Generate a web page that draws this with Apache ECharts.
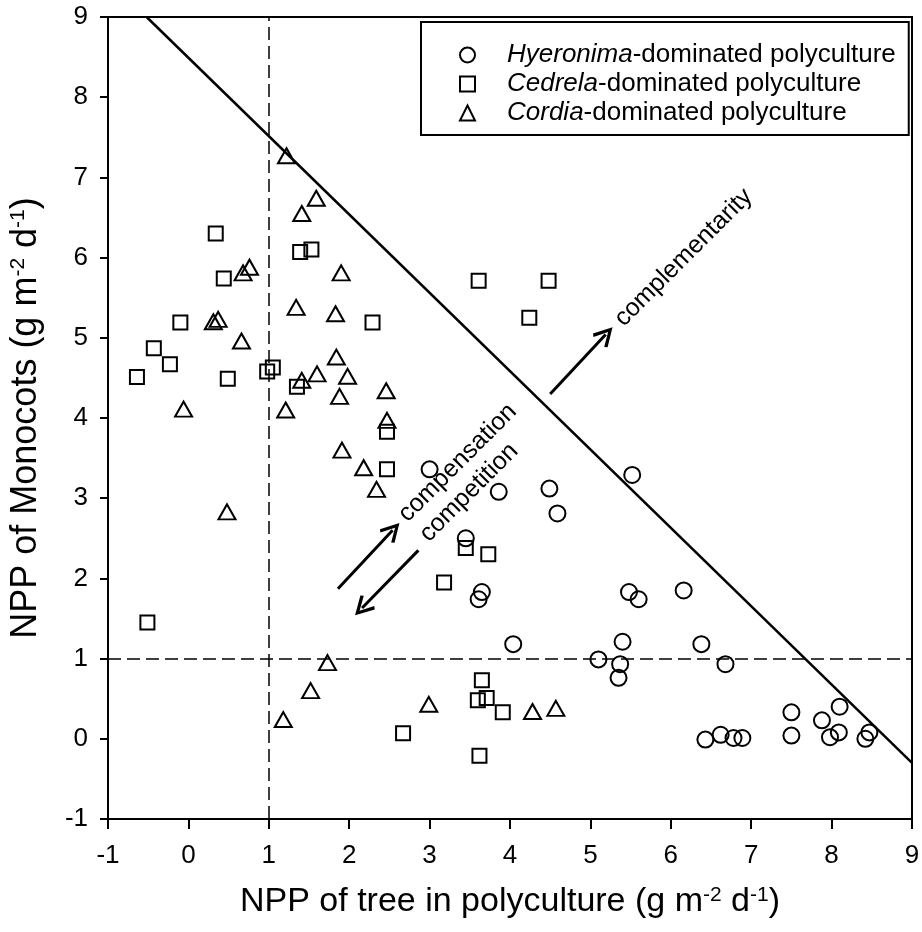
<!DOCTYPE html>
<html>
<head>
<meta charset="utf-8">
<script src="https://cdn.jsdelivr.net/npm/echarts@6/dist/echarts.min.js"></script>
<style>
  html, body { margin: 0; padding: 0; background: #fff; }
  #chart { width: 922px; height: 932px; }
</style>
</head>
<body>
<div id="chart"></div>
<script>
// values, [tree NPP, monocot NPP]
const hyeronima = [
  [3.00, 3.36], [3.86, 3.08], [4.49, 3.12], [4.59, 2.81], [5.52, 3.29],
  [3.45, 2.50], [3.65, 1.83], [3.61, 1.74], [4.04, 1.18], [5.48, 1.83],
  [5.60, 1.74], [6.16, 1.85], [5.40, 1.21], [5.10, 0.99], [5.37, 0.93],
  [5.35, 0.76], [6.38, 1.18], [6.68, 0.93], [6.43, -0.01], [6.62, 0.05],
  [6.78, 0.01], [6.89, 0.01], [7.50, 0.33], [7.50, 0.04], [7.88, 0.23],
  [8.10, 0.40], [7.98, 0.02], [8.09, 0.08], [8.47, 0.08], [8.42, 0.00]
]
const cedrela = [
  [0.34, 6.30], [1.39, 6.07], [1.53, 6.10], [0.44, 5.74], [2.29, 5.19],
  [-0.10, 5.19], [-0.43, 4.87], [-0.23, 4.67], [-0.64, 4.51], [0.49, 4.49],
  [0.98, 4.58], [1.05, 4.63], [1.35, 4.39], [2.47, 3.83], [2.47, 3.36],
  [-0.51, 1.45], [3.61, 5.71], [4.48, 5.71], [4.24, 5.25], [3.45, 2.38],
  [3.73, 2.30], [3.18, 1.95], [2.67, 0.07], [3.65, 0.73], [3.60, 0.48],
  [3.71, 0.51], [3.91, 0.33], [3.62, -0.21]
]
const cordia = [
  [1.22, 7.27], [1.59, 6.74], [1.41, 6.55], [0.68, 5.81], [0.76, 5.88],
  [1.90, 5.81], [1.34, 5.38], [1.83, 5.30], [0.31, 5.20], [0.37, 5.23],
  [0.66, 4.96], [1.84, 4.76], [1.41, 4.47], [1.60, 4.55], [1.98, 4.52],
  [1.88, 4.27], [2.46, 4.34], [2.47, 3.97], [-0.06, 4.11], [1.21, 4.10],
  [1.91, 3.60], [2.18, 3.38], [2.34, 3.11], [0.48, 2.83], [1.73, 0.95],
  [1.52, 0.60], [1.18, 0.24], [2.99, 0.43], [4.28, 0.34], [4.57, 0.38]
]
const seriesNames = [
  'Hyeronima-dominated polyculture',
  'Cedrela-dominated polyculture',
  'Cordia-dominated polyculture'
]
const genusNames = ['Hyeronima', 'Cedrela', 'Cordia']

// reference lines
const boundary = [[-0.52, 9], [9, -0.3]]
const refX = 1
const refY = 1

// arrows: [start, end]
const arrowComplementarity = [[4.50, 4.30], [5.19, 5.04]]
const arrowCompensation = [[1.86, 1.87], [2.54, 2.60]]
const arrowCompetition = [[2.86, 2.35], [2.16, 1.63]]

// rotated labels [x, y, text]
const notes = [
  [6.16, 6.00, 'complementarity'],
  [3.35, 3.44, 'compensation'],
  [3.49, 3.07, 'competition']
]

const axisMin = -1
const axisMax = 9

const font = '"Liberation Sans", Arial, sans-serif'
const chevron = 'path://M0,10 L6,0 L12,10 L10.4,11.2 L6,3.6 L1.6,11.2 Z'

const chart = echarts.init(document.getElementById('chart'))

const markerStyle = {
  color: 'rgba(0,0,0,0)',
  borderColor: '#000',
  borderWidth: 2,
  opacity: 1
}

const supRich = {
  sup: { fontSize: 21, fontFamily: font, color: '#000', verticalAlign: 'top', lineHeight: 21 }
}

function arrowLine(pair) {
  return [
    { coord: pair[0], symbol: 'none' },
    { coord: pair[1], symbol: chevron, symbolSize: 20 }
  ]
}

chart.setOption({
  animation: false,
  textStyle: { fontFamily: font },
  grid: {
    left: 108, right: 10, top: 17, bottom: 113,
    containLabel: false,
    outerBoundsMode: 'none',
    show: true, borderColor: '#000', borderWidth: 2
  },
  legend: {
    orient: 'vertical',
    left: 421,
    top: 22,
    padding: [20, 13, 9, 38],
    itemGap: 3,
    itemWidth: 15,
    itemHeight: 15,
    borderColor: '#000',
    borderWidth: 2,
    backgroundColor: '#fff',
    selectedMode: false,
    itemStyle: { color: 'rgba(0,0,0,0)', borderColor: '#000', borderWidth: 2, opacity: 1 },
    textStyle: {
      fontSize: 26,
      color: '#000',
      padding: [0, 0, 0, 27],
      rich: { i: { fontSize: 26, fontStyle: 'italic', color: '#000' } }
    },
    formatter: name => {
      const k = seriesNames.indexOf(name)
      return '{i|' + genusNames[k] + '}' + name.slice(genusNames[k].length)
    },
    data: [
      { name: seriesNames[0], icon: 'circle' },
      { name: seriesNames[1], icon: 'rect' },
      { name: seriesNames[2], icon: 'triangle' }
    ]
  },
  xAxis: {
    type: 'value',
    min: axisMin,
    max: axisMax,
    interval: 1,
    name: 'NPP of tree in polyculture (g m{sup|-2} d{sup|-1})',
    nameLocation: 'middle',
    nameGap: 66,
    nameTextStyle: { fontSize: 34, color: '#000', rich: supRich },
    axisLine: { onZero: false, lineStyle: { color: '#000', width: 2 } },
    axisTick: { inside: false, length: 10, lineStyle: { color: '#000', width: 2 } },
    axisLabel: { fontSize: 26, color: '#000', margin: 24 },
    splitLine: { show: false }
  },
  yAxis: {
    type: 'value',
    min: axisMin,
    max: axisMax,
    interval: 1,
    name: 'NPP of Monocots (g m{sup|-2} d{sup|-1})',
    nameLocation: 'middle',
    nameGap: 64,
    nameTextStyle: { fontSize: 36, color: '#000', rich: supRich },
    axisLine: { onZero: false, lineStyle: { color: '#000', width: 2 } },
    axisTick: { inside: false, length: 8, lineStyle: { color: '#000', width: 2 } },
    axisLabel: { fontSize: 26, color: '#000', margin: 20 },
    splitLine: { show: false }
  },
  series: [
    {
      name: seriesNames[0],
      type: 'scatter',
      symbol: 'circle',
      symbolSize: 16,
      itemStyle: markerStyle,
      data: hyeronima,
      z: 3,
      markLine: {
        silent: true,
        symbol: 'none',
        label: { show: false },
        lineStyle: { color: '#000', width: 1.5, type: [13, 6], opacity: 1 },
        data: [
          { xAxis: refX },
          { yAxis: refY }
        ]
      }
    },
    {
      name: seriesNames[1],
      type: 'scatter',
      symbol: 'rect',
      symbolSize: 14,
      itemStyle: markerStyle,
      data: cedrela,
      z: 3,
      markLine: {
        silent: true,
        symbol: 'none',
        label: { show: false },
        lineStyle: { color: '#000', width: 2.5, type: 'solid', opacity: 1 },
        data: [
          [{ coord: boundary[0] }, { coord: boundary[1] }]
        ]
      }
    },
    {
      name: seriesNames[2],
      type: 'scatter',
      symbol: 'triangle',
      symbolSize: [17, 15],
      itemStyle: markerStyle,
      data: cordia,
      z: 3,
      markLine: {
        silent: true,
        label: { show: false },
        lineStyle: { color: '#000', width: 3, type: 'solid', opacity: 1 },
        data: [
          arrowLine(arrowComplementarity),
          arrowLine(arrowCompensation),
          arrowLine(arrowCompetition)
        ]
      }
    },
    {
      name: 'notes',
      type: 'scatter',
      symbolSize: 0,
      silent: true,
      data: notes,
      itemStyle: { opacity: 1 },
      label: {
        show: true,
        position: 'inside',
        rotate: 45,
        fontSize: 25,
        color: '#000',
        opacity: 1,
        formatter: p => p.data[2]
      }
    }
  ]
})
</script>
</body>
</html>
